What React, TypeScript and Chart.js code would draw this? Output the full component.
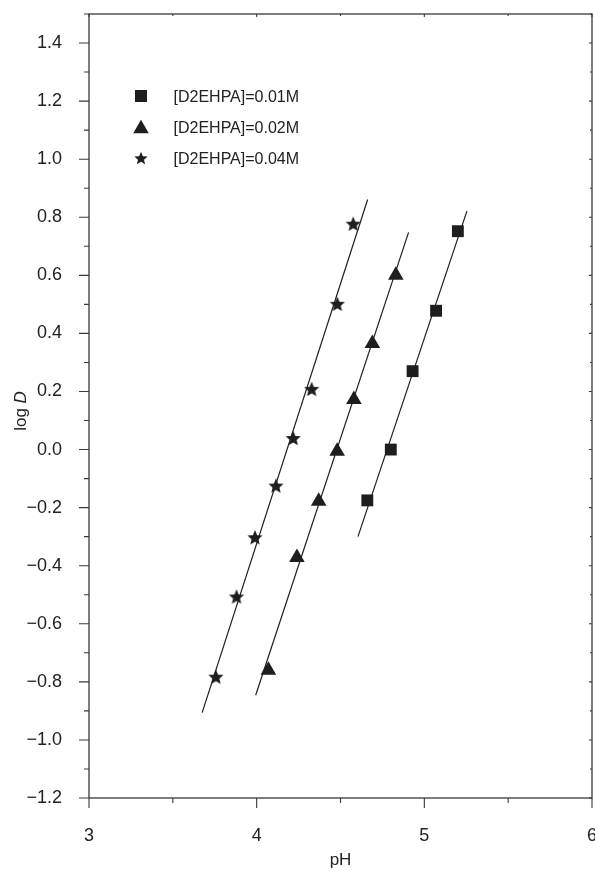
import React, { useEffect, useRef } from 'react';
import { Chart, registerables } from 'chart.js';

Chart.register(...registerables);

// ---- data ----
const squarePH = [4.66, 4.80, 4.93, 5.07, 5.20];
const squareLogD = [-0.175, 0.0, 0.27, 0.478, 0.752];

const trianglePH = [4.07, 4.24, 4.37, 4.48, 4.58, 4.69, 4.83];
const triangleLogD = [-0.76, -0.372, -0.178, -0.006, 0.172, 0.365, 0.60];

const starPH = [3.757, 3.88, 3.99, 4.115, 4.218, 4.328, 4.481, 4.576];
const starLogD = [-0.782, -0.506, -0.302, -0.124, 0.04, 0.209, 0.502, 0.778];

const fitSquarePH = [4.604, 5.254];
const fitSquareLogD = [-0.30, 0.821];
const fitTrianglePH = [3.994, 4.906];
const fitTriangleLogD = [-0.846, 0.748];
const fitStarPH = [3.675, 4.662];
const fitStarLogD = [-0.906, 0.861];

const legendLabels = ['[D2EHPA]=0.01M', '[D2EHPA]=0.02M', '[D2EHPA]=0.04M'];

const xMajorTicks = [3, 4, 5, 6];
const xMinorTicks = [3.5, 4.5, 5.5];
const yMajorTicks = [-1.2, -1.0, -0.8, -0.6, -0.4, -0.2, 0.0, 0.2, 0.4, 0.6, 0.8, 1.0, 1.2, 1.4];
const yMinorTicks = [-1.1, -0.9, -0.7, -0.5, -0.3, -0.1, 0.1, 0.3, 0.5, 0.7, 0.9, 1.1, 1.3, 1.5];

const xTitle = 'pH';
const yTitleA = 'log ';
const yTitleB = 'D';

// ---- styling ----
const FONT = '"Liberation Sans", Arial, Helvetica, sans-serif';
const INK = '#1e1e1e';
const AXIS = '#3a3a3a';
const TEXT = '#222222';

function pts(xs: number[], ys: number[]) {
  return xs.map((x, i) => ({ x, y: ys[i] }));
}

function makeStar(R: number, color: string) {
  const size = Math.ceil(2 * R + 4);
  const c = document.createElement('canvas');
  c.width = size;
  c.height = size;
  const ctx = c.getContext('2d')!;
  const cx = size / 2;
  const cy = size / 2 + R * 0.1;
  ctx.beginPath();
  for (let i = 0; i < 10; i++) {
    const r = i % 2 === 0 ? R : R * 0.45;
    const a = -Math.PI / 2 + (i * Math.PI) / 5;
    const px = cx + r * Math.cos(a);
    const py = cy + r * Math.sin(a);
    if (i === 0) ctx.moveTo(px, py);
    else ctx.lineTo(px, py);
  }
  ctx.closePath();
  ctx.fillStyle = color;
  ctx.fill();
  return c;
}

const decorPlugin = {
  id: 'decor',
  afterDraw(chart: any) {
    const { ctx, chartArea: a, scales } = chart;
    const xs = scales.x;
    const ys = scales.y;
    ctx.save();
    // frame
    ctx.strokeStyle = AXIS;
    ctx.lineWidth = 1.3;
    ctx.strokeRect(a.left, a.top, a.right - a.left, a.bottom - a.top);

    ctx.lineWidth = 1.1;
    ctx.beginPath();
    xMajorTicks.forEach((v) => {
      const p = xs.getPixelForValue(v);
      ctx.moveTo(p, a.bottom);
      ctx.lineTo(p, a.bottom + 10);
      ctx.moveTo(p, a.top);
      ctx.lineTo(p, a.top + 3);
    });
    xMinorTicks.forEach((v) => {
      const p = xs.getPixelForValue(v);
      ctx.moveTo(p, a.bottom);
      ctx.lineTo(p, a.bottom + 5);
      ctx.moveTo(p, a.top);
      ctx.lineTo(p, a.top + 2);
    });
    yMajorTicks.forEach((v) => {
      const p = ys.getPixelForValue(v);
      ctx.moveTo(a.left, p);
      ctx.lineTo(a.left - 10, p);
      ctx.moveTo(a.right, p);
      ctx.lineTo(a.right - 3, p);
    });
    yMinorTicks.forEach((v) => {
      const p = ys.getPixelForValue(v);
      ctx.moveTo(a.left, p);
      ctx.lineTo(a.left - 5, p);
      ctx.moveTo(a.right, p);
      ctx.lineTo(a.right - 2, p);
    });
    ctx.stroke();

    // x title
    ctx.fillStyle = TEXT;
    ctx.font = `17px ${FONT}`;
    ctx.textAlign = 'center';
    ctx.textBaseline = 'alphabetic';
    ctx.fillText(xTitle, (a.left + a.right) / 2, 865);

    // y title (rotated, D italic)
    ctx.save();
    ctx.translate(26, 411);
    ctx.rotate(-Math.PI / 2);
    ctx.font = `17px ${FONT}`;
    const wA = ctx.measureText(yTitleA).width;
    ctx.font = `italic 17px ${FONT}`;
    const wB = ctx.measureText(yTitleB).width;
    const start = -(wA + wB) / 2;
    ctx.textAlign = 'left';
    ctx.font = `17px ${FONT}`;
    ctx.fillText(yTitleA, start, 0);
    ctx.font = `italic 17px ${FONT}`;
    ctx.fillText(yTitleB, start + wA, 0);
    ctx.restore();

    // legend
    const rows = [96, 127, 158];
    const mx = 141;
    ctx.fillStyle = INK;
    ctx.fillRect(mx - 6, rows[0] - 6, 12, 12);
    const r = 9;
    ctx.beginPath();
    ctx.moveTo(mx, rows[1] - r * 0.75 - 0.5);
    ctx.lineTo(mx + r * 0.866, rows[1] + r * 0.75 - 0.5);
    ctx.lineTo(mx - r * 0.866, rows[1] + r * 0.75 - 0.5);
    ctx.closePath();
    ctx.fill();
    const st = makeStar(7, INK);
    ctx.drawImage(st, mx - st.width / 2, rows[2] - st.height / 2);

    ctx.fillStyle = TEXT;
    ctx.font = `16px ${FONT}`;
    ctx.textAlign = 'left';
    ctx.textBaseline = 'alphabetic';
    legendLabels.forEach((t, i) => ctx.fillText(t, 173.5, rows[i] + 6));

    ctx.restore();
  },
};

export default function App() {
  const ref = useRef<HTMLCanvasElement | null>(null);

  useEffect(() => {
    if (!ref.current) return;
    const star = makeStar(8, INK);
    const chart = new Chart(ref.current, {
      type: 'scatter',
      data: {
        datasets: [
          { label: 'fit 0.01', data: pts(fitSquarePH, fitSquareLogD), showLine: true, borderColor: INK, borderWidth: 1.2, pointRadius: 0 },
          { label: 'fit 0.02', data: pts(fitTrianglePH, fitTriangleLogD), showLine: true, borderColor: INK, borderWidth: 1.2, pointRadius: 0 },
          { label: 'fit 0.04', data: pts(fitStarPH, fitStarLogD), showLine: true, borderColor: INK, borderWidth: 1.2, pointRadius: 0 },
          {
            label: legendLabels[0],
            data: pts(squarePH, squareLogD),
            pointStyle: 'rect',
            pointRadius: 8.4,
            backgroundColor: INK,
            borderColor: INK,
            borderWidth: 0,
          },
          {
            label: legendLabels[1],
            data: pts(trianglePH, triangleLogD),
            pointStyle: 'triangle',
            pointRadius: 9,
            backgroundColor: INK,
            borderColor: INK,
            borderWidth: 0,
          },
          {
            label: legendLabels[2],
            data: pts(starPH, starLogD),
            pointStyle: star as any,
            pointRadius: 8,
            backgroundColor: INK,
            borderColor: INK,
            borderWidth: 0,
          },
        ],
      },
      options: {
        responsive: false,
        animation: false,
        devicePixelRatio: 1,
        layout: { autoPadding: false, padding: { left: 0, top: 14, right: 3, bottom: 0 } },
        plugins: {
          legend: { display: false },
          tooltip: { enabled: false },
        },
        scales: {
          x: {
            type: 'linear',
            min: 3,
            max: 6,
            grid: { display: false },
            border: { display: false },
            afterBuildTicks: (s: any) => {
              s.ticks = xMajorTicks.map((v) => ({ value: v }));
            },
            afterFit: (s: any) => {
              s.height = 73;
              s.paddingLeft = 0;
              s.paddingRight = 0;
            },
            ticks: {
              padding: 19,
              color: TEXT,
              font: { family: FONT, size: 18 },
              maxRotation: 0,
              autoSkip: false,
              callback: (v: any) => String(v),
            },
          },
          y: {
            type: 'linear',
            min: -1.2,
            max: 1.5,
            grid: { display: false },
            border: { display: false },
            afterBuildTicks: (s: any) => {
              s.ticks = yMajorTicks.map((v) => ({ value: v }));
            },
            afterFit: (s: any) => {
              s.width = 89;
              s.paddingTop = 0;
              s.paddingBottom = 0;
            },
            ticks: {
              padding: 19,
              color: TEXT,
              font: { family: FONT, size: 18 },
              autoSkip: false,
              callback: (v: any) => {
                const n = Number(v);
                const s = Math.abs(n).toFixed(1);
                return n < -1e-9 ? '\u2212' + s : s;
              },
            },
          },
        },
      },
      plugins: [decorPlugin],
    });
    return () => chart.destroy();
  }, []);

  return (
    <div style={{ position: 'absolute', left: 0, top: 0, width: 595, height: 871, background: '#fff' }}>
      <canvas ref={ref} width={595} height={871} style={{ display: 'block', width: 595, height: 871 }} />
    </div>
  );
}
